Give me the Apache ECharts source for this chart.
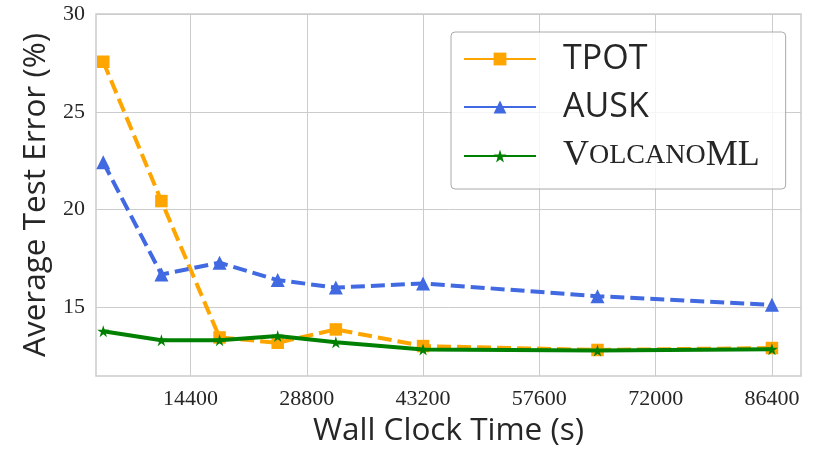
<!DOCTYPE html>
<html><head><meta charset="utf-8">
<script src="https://cdn.jsdelivr.net/npm/echarts@6/dist/echarts.min.js"></script>
<style>html,body{margin:0;padding:0;background:#fff}#c{width:830px;height:467px}</style>
</head><body><div id="c"></div>
<script>
const times = [3600, 10800, 18000, 25200, 32400, 43200, 64800, 86400];
const tpot = [27.56, 20.44, 13.47, 13.2, 13.88, 13.03, 12.83, 12.93];
const ausk = [22.42, 16.69, 17.29, 16.4, 16.02, 16.23, 15.58, 15.14];
const volcano = [13.79, 13.33, 13.33, 13.54, 13.22, 12.86, 12.8, 12.87];
const xTicks = [14400, 28800, 43200, 57600, 72000, 86400];
const yTicks = [15, 20, 25, 30];
const seriesNames = ['TPOT', 'AUSK', 'VolcanoML'];

const pair = (xs, ys) => xs.map((x, i) => [x, ys[i]]);
const serifFont = '"Liberation Serif", "DejaVu Serif", serif';
const sansFont = '"Open Sans", "DejaVu Sans", sans-serif';

const chart = echarts.init(document.getElementById('c'), null, {renderer: 'canvas'});
chart.setOption({
  animation: false,
  backgroundColor: '#fff',
  grid: {left: 96, right: 29, top: 14, bottom: 91, show: true, borderColor: '#cccccc', borderWidth: 1.5},
  xAxis: {
    type: 'value', min: 2700, max: 90000,
    name: 'Wall Clock Time (s)', nameLocation: 'middle', nameGap: 39,
    nameTextStyle: {fontFamily: sansFont, fontSize: 31.5, color: '#262626'},
    axisLine: {show: false}, axisTick: {show: false, customValues: xTicks},
    axisLabel: {customValues: xTicks, formatter: v => String(v), fontFamily: serifFont, fontSize: 22, color: '#262626', margin: 12},
    splitLine: {show: true, lineStyle: {color: '#cccccc', width: 1}}
  },
  yAxis: {
    type: 'value', min: 11.5, max: 30,
    name: 'Average Test Error (%)', nameLocation: 'middle', nameGap: 41,
    nameTextStyle: {fontFamily: sansFont, fontSize: 31.5, color: '#262626'},
    axisLine: {show: false}, axisTick: {show: false, customValues: yTicks},
    axisLabel: {customValues: yTicks, formatter: v => String(v), fontFamily: serifFont, fontSize: 22, color: '#262626', margin: 11},
    splitLine: {show: true, lineStyle: {color: '#cccccc', width: 1}}
  },
  legend: {
    left: 451, top: 32, orient: 'vertical',
    backgroundColor: 'rgba(255,255,255,0.8)', borderColor: '#aaaaaa', borderWidth: 1, borderRadius: 4,
    padding: [10, 26, 15, 12], itemGap: 14, itemWidth: 72, itemHeight: 16,
    lineStyle: {width: 2, type: 'solid'},
    formatter: function (name) {
      if (name === 'VolcanoML') return '{big0|V}{small|OLCANO}{big|ML}';
      return '{sans|' + name + '}';
    },
    textStyle: {
      color: '#262626',
      rich: {
        sans: {fontFamily: sansFont, fontSize: 34, lineHeight: 34, padding: [0, 0, 0, 22]},
        big0: {fontFamily: serifFont, fontSize: 36, lineHeight: 34, padding: [0, 0, 0, 22]},
        big: {fontFamily: serifFont, fontSize: 36, lineHeight: 34},
        small: {fontFamily: serifFont, fontSize: 28, lineHeight: 34}
      }
    },
    data: seriesNames
  },
  series: [
    {name: seriesNames[0], type: 'line', data: pair(times, tpot), color: '#FFA500',
     symbol: 'rect', symbolSize: 12.5, lineStyle: {width: 4, type: [14, 6]}, z: 2},
    {name: seriesNames[1], type: 'line', data: pair(times, ausk), color: '#4169E1',
     symbol: 'triangle', symbolSize: 14, lineStyle: {width: 4, type: [14, 6]}, z: 3},
    {name: seriesNames[2], type: 'line', data: pair(times, volcano), color: '#008000',
     symbol: 'path://M0,-1L0.2245,-0.309L0.951,-0.309L0.363,0.118L0.588,0.809L0,0.382L-0.588,0.809L-0.363,0.118L-0.951,-0.309L-0.2245,-0.309Z',
     symbolSize: 12, lineStyle: {width: 4, type: 'solid'}, z: 4}
  ]
});
</script></body></html>
